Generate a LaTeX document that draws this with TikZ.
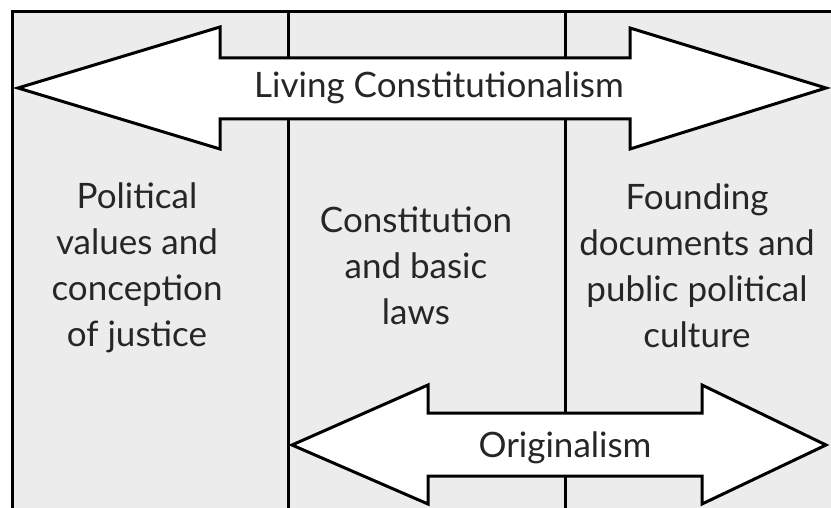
\documentclass[tikz,border=0pt]{standalone}
\usepackage{fontspec}
\setmainfont[Ligatures={Common,Rare}]{Lato}

\begin{document}
\begin{tikzpicture}[x=1pt, y=-1pt,
    panel/.style={fill=gray!15},
    rule/.style={line width=3pt},
    bigarrow/.style={draw, line width=3pt, fill=white},
    label/.style={align=center, inner sep=0pt, text=black!85, font=\fontsize{35}{46}\selectfont},
    ]
    \useasboundingbox (0,0) rectangle (831,508);
    \fill[panel] (12,12) rectangle (831,508);
    \draw[rule] (12,508) -- (12,12) -- (831,12);
    \draw[rule] (288,12) -- (288,508);
    \draw[rule] (565,12) -- (565,508);

    % both ways arrows
    \draw[bigarrow] (18,88) -- (220,27) -- (220,58) -- (630,58) -- (630,28) -- (826,88)
        -- (630,149) -- (630,119) -- (220,119) -- (220,149) -- cycle;
    \draw[bigarrow] (292,445) -- (428,385) -- (428,413) -- (702,413) -- (702,385) -- (826,445)
        -- (702,504) -- (702,476) -- (428,476) -- (428,504) -- cycle;

    \node[label] (living) at (439,88) {Living Constitutionalism};
    \node[label] (original) at (565,448) {Originalism};

    \node[label] (values) at (137,268) {Political\\values and\\conception\\of justice};
    \node[label] (laws) at (416,266) {Constitution\\and basic\\laws};
    \node[label] (founding) at (697,266) {Founding\\documents and\\public political\\culture};

\end{tikzpicture}
\end{document}
